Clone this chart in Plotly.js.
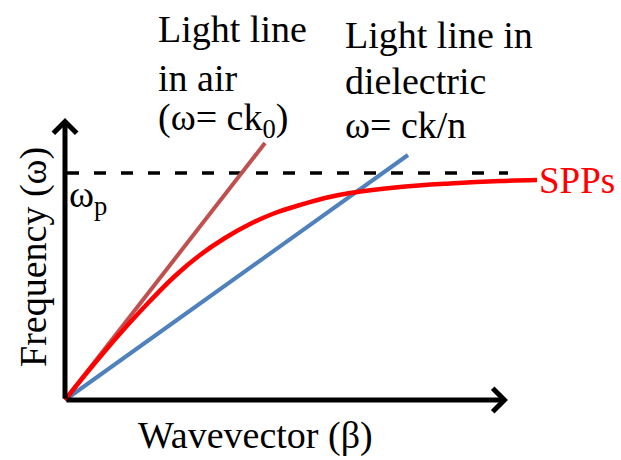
<!DOCTYPE html>
<html>
<head>
<meta charset="utf-8">
<script src="https://cdn.plot.ly/plotly-3.0.1.min.js"></script>
<style>html,body{margin:0;padding:0;background:#fff;}#chart{width:621px;height:460px;}</style>
</head>
<body>
<div id="chart"></div>
<script>
// Light line in air (omega = c k0)
const airK = [0, 200];
const airW = [0, 257];
// Light line in dielectric (omega = c k / n)
const dielK = [0, 343];
const dielW = [0, 245];
// SPP dispersion curve
const sppK = [0, 20, 40, 60, 85, 110, 135, 160, 185, 210, 235, 260, 285, 335, 385, 435, 472];
const sppW = [0, 25, 49, 72, 99, 124, 145, 162, 176, 187, 195, 202, 207, 213, 216.5, 219, 220];
// plasma frequency level
const plasmaK = [2, 443];
const plasmaW = [227, 227];
// axis extents
const axisKMax = 443;
const axisWMax = 282;

const serif = "'Liberation Serif', 'Times New Roman', Times, serif";

const traces = [
  {x: plasmaK, y: plasmaW, mode: 'lines', line: {color: '#000', width: 3.5, dash: '12px,15px'}, hoverinfo: 'skip'},
  {x: airK, y: airW, mode: 'lines', line: {color: '#C0504D', width: 4}, hoverinfo: 'skip'},
  {x: dielK, y: dielW, mode: 'lines', line: {color: '#4F81BD', width: 4}, hoverinfo: 'skip'},
  {x: sppK, y: sppW, mode: 'lines', line: {color: '#FF0000', width: 4.5, shape: 'spline', smoothing: 1}, hoverinfo: 'skip'}
];

function txt(text, x, y, opts) {
  return Object.assign({text: text, x: x, y: y, xref: 'x', yref: 'y', showarrow: false,
    xanchor: 'left', yanchor: 'middle', font: {family: serif, size: 38, color: '#000'}}, opts || {});
}

const annotations = [
  {x: axisKMax, y: 0, ax: 0, ay: 0, axref: 'x', ayref: 'y', xref: 'x', yref: 'y', text: '',
   showarrow: true, arrowhead: 4, arrowwidth: 5, arrowsize: 0.9, arrowcolor: '#000'},
  {x: 0, y: axisWMax, ax: 0, ay: 0, axref: 'x', ayref: 'y', xref: 'x', yref: 'y', text: '',
   showarrow: true, arrowhead: 4, arrowwidth: 5, arrowsize: 0.9, arrowcolor: '#000'},
  txt('Light line', 91, 371),
  txt('in air', 91, 322),
  txt('(ω= ck<sub>0</sub>)', 91, 280),
  txt('Light line in', 278, 365),
  txt('dielectric', 278, 319),
  txt('ω= ck/n', 278, 275),
  txt('SPPs', 472, 220, {font: {family: serif, size: 37, color: '#FF0000'}}),
  txt('ω<sub>p</sub>', 2, 203),
  txt('Wavevector (β)', 190, -35, {xanchor: 'center'}),
  txt('Frequency (ω)', -32, 143, {xanchor: 'center', textangle: -90})
];

const layout = {
  width: 621, height: 460,
  margin: {l: 0, r: 0, t: 0, b: 0},
  paper_bgcolor: '#fff', plot_bgcolor: '#fff',
  showlegend: false,
  font: {family: serif},
  xaxis: {range: [-65, 556], visible: false, fixedrange: true},
  yaxis: {range: [-60, 400], visible: false, fixedrange: true},
  annotations: annotations
};

Plotly.newPlot('chart', traces, layout, {displayModeBar: false, staticPlot: true});
</script>
</body>
</html>
